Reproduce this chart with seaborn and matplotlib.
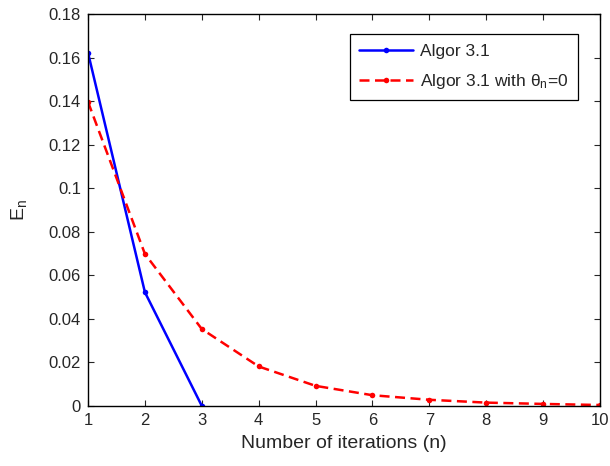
import matplotlib
matplotlib.use('Agg')
import matplotlib.pyplot as plt
import seaborn as sns

# data
iters_a = [1, 2, 3]
err_a = [0.1622, 0.0522, 0.0]
iters_b = [1, 2, 3, 4, 5, 6, 7, 8, 9, 10]
err_b = [0.1396, 0.0698, 0.0353, 0.0181, 0.0092, 0.0049, 0.0028, 0.0015, 0.0009, 0.0004]

sns.set_style('ticks', {'xtick.direction': 'in', 'ytick.direction': 'in'})
plt.rcParams['font.family'] = ['Liberation Sans', 'DejaVu Sans']
plt.rcParams['mathtext.fontset'] = 'custom'
plt.rcParams['mathtext.rm'] = 'Liberation Sans'
plt.rcParams['mathtext.it'] = 'Liberation Sans'

fig = plt.figure(figsize=(6.1, 4.66), dpi=100)
ax = fig.add_axes([0.1443, 0.1290, 0.8393, 0.8410])

sns.lineplot(x=iters_a, y=err_a, ax=ax, color='#0000ff', linewidth=1.8,
             marker='o', markersize=4, markeredgewidth=0, label='Algor 3.1')
sns.lineplot(x=iters_b, y=err_b, ax=ax, color='#ff0000', linewidth=1.8,
             linestyle=(0, (4, 2.2)), marker='o', markersize=4, markeredgewidth=0,
             label=r'Algor 3.1 with θ$_\mathregular{n}$=0')

ax.set_xlim(1, 10)
ax.set_ylim(0, 0.18)
ax.set_xticks(range(1, 11))
ax.set_yticks([0, 0.02, 0.04, 0.06, 0.08, 0.1, 0.12, 0.14, 0.16, 0.18])
ax.set_yticklabels(['0', '0.02', '0.04', '0.06', '0.08', '0.1', '0.12', '0.14', '0.16', '0.18'])
ax.tick_params(top=True, right=True, labelsize=12, length=4, width=0.8, direction='in', pad=5)
for s in ax.spines.values():
    s.set_linewidth(1.0)
    s.set_color('black')

ax.set_xlabel('Number of iterations (n)', fontsize=14, labelpad=5)
ax.set_ylabel(r'E$_\mathregular{n}$', fontsize=14, labelpad=14)

leg = ax.legend(loc='upper right', bbox_to_anchor=(0.957, 0.949), borderaxespad=0,
                fontsize=12.5, frameon=True, fancybox=False, edgecolor='black', framealpha=1,
                handlelength=3.1, handletextpad=0.4, borderpad=0.55, labelspacing=0.75)
leg.get_frame().set_linewidth(0.9)

fig.savefig('out.png', dpi=100)
